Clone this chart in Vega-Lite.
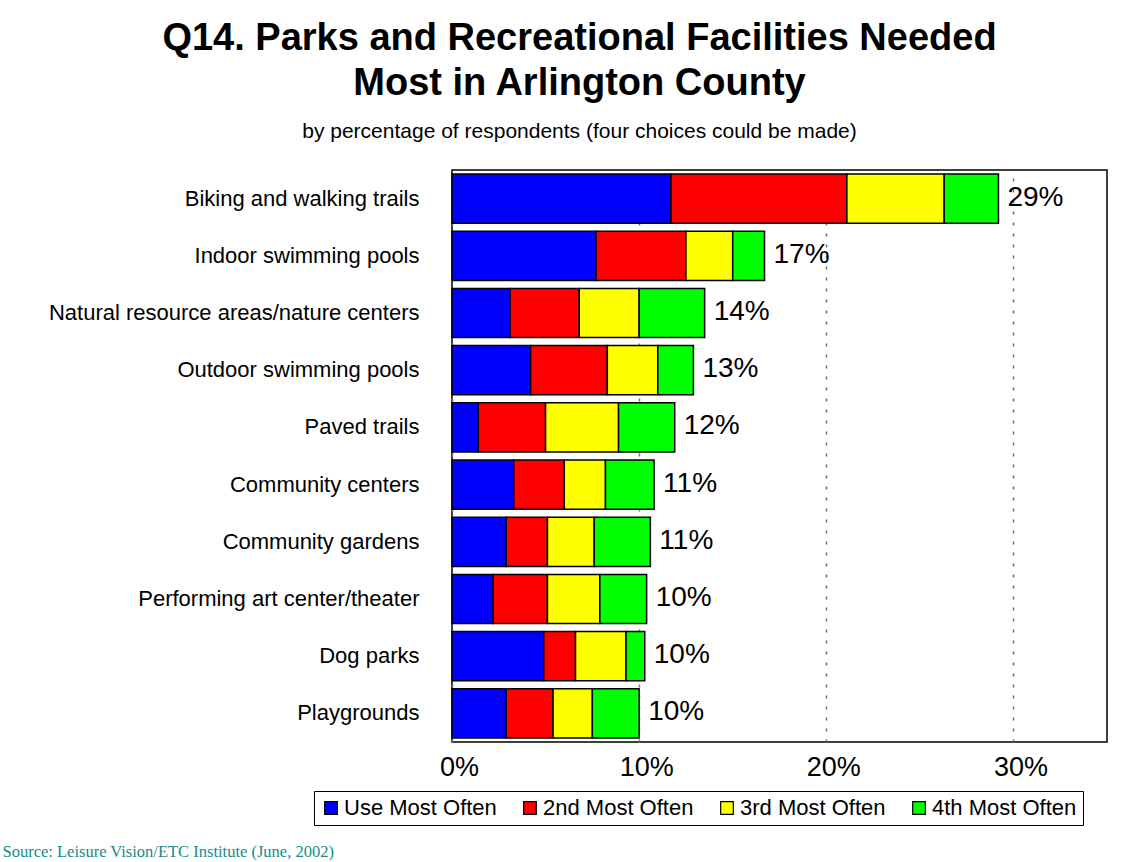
{
  "$schema": "https://vega.github.io/schema/vega-lite/v6.json",
  "width": 655,
  "height": 572,
  "autosize": {"type": "none"},
  "padding": {"left": 452, "top": 170, "right": 31, "bottom": 120},
  "background": "white",
  "config": {
    "font": "Liberation Sans",
    "view": {"stroke": "black", "strokeWidth": 1.5}
  },
  "title": {
    "text": ["Q14. Parks and Recreational Facilities Needed", "Most in Arlington County"],
    "subtitle": "by percentage of respondents (four choices could be made)",
    "anchor": "middle",
    "dx": -200,
    "font": "Liberation Sans",
    "fontSize": 38,
    "fontWeight": "bold",
    "lineHeight": 45,
    "color": "black",
    "subtitleFont": "Liberation Sans",
    "subtitleFontSize": 21,
    "subtitleColor": "black",
    "subtitlePadding": 18,
    "offset": 28
  },
  "datasets": {
    "segments": [
      {"facility": "Biking and walking trails", "choice": "Use Most Often", "rank": 1, "value": 11.7},
      {"facility": "Biking and walking trails", "choice": "2nd Most Often", "rank": 2, "value": 9.4},
      {"facility": "Biking and walking trails", "choice": "3rd Most Often", "rank": 3, "value": 5.2},
      {"facility": "Biking and walking trails", "choice": "4th Most Often", "rank": 4, "value": 2.9},
      {"facility": "Indoor swimming pools", "choice": "Use Most Often", "rank": 1, "value": 7.7},
      {"facility": "Indoor swimming pools", "choice": "2nd Most Often", "rank": 2, "value": 4.8},
      {"facility": "Indoor swimming pools", "choice": "3rd Most Often", "rank": 3, "value": 2.5},
      {"facility": "Indoor swimming pools", "choice": "4th Most Often", "rank": 4, "value": 1.7},
      {"facility": "Natural resource areas/nature centers", "choice": "Use Most Often", "rank": 1, "value": 3.1},
      {"facility": "Natural resource areas/nature centers", "choice": "2nd Most Often", "rank": 2, "value": 3.7},
      {"facility": "Natural resource areas/nature centers", "choice": "3rd Most Often", "rank": 3, "value": 3.2},
      {"facility": "Natural resource areas/nature centers", "choice": "4th Most Often", "rank": 4, "value": 3.5},
      {"facility": "Outdoor swimming pools", "choice": "Use Most Often", "rank": 1, "value": 4.2},
      {"facility": "Outdoor swimming pools", "choice": "2nd Most Often", "rank": 2, "value": 4.1},
      {"facility": "Outdoor swimming pools", "choice": "3rd Most Often", "rank": 3, "value": 2.7},
      {"facility": "Outdoor swimming pools", "choice": "4th Most Often", "rank": 4, "value": 1.9},
      {"facility": "Paved trails", "choice": "Use Most Often", "rank": 1, "value": 1.4},
      {"facility": "Paved trails", "choice": "2nd Most Often", "rank": 2, "value": 3.6},
      {"facility": "Paved trails", "choice": "3rd Most Often", "rank": 3, "value": 3.9},
      {"facility": "Paved trails", "choice": "4th Most Often", "rank": 4, "value": 3.0},
      {"facility": "Community centers", "choice": "Use Most Often", "rank": 1, "value": 3.3},
      {"facility": "Community centers", "choice": "2nd Most Often", "rank": 2, "value": 2.7},
      {"facility": "Community centers", "choice": "3rd Most Often", "rank": 3, "value": 2.2},
      {"facility": "Community centers", "choice": "4th Most Often", "rank": 4, "value": 2.6},
      {"facility": "Community gardens", "choice": "Use Most Often", "rank": 1, "value": 2.9},
      {"facility": "Community gardens", "choice": "2nd Most Often", "rank": 2, "value": 2.2},
      {"facility": "Community gardens", "choice": "3rd Most Often", "rank": 3, "value": 2.5},
      {"facility": "Community gardens", "choice": "4th Most Often", "rank": 4, "value": 3.0},
      {"facility": "Performing art center/theater", "choice": "Use Most Often", "rank": 1, "value": 2.2},
      {"facility": "Performing art center/theater", "choice": "2nd Most Often", "rank": 2, "value": 2.9},
      {"facility": "Performing art center/theater", "choice": "3rd Most Often", "rank": 3, "value": 2.8},
      {"facility": "Performing art center/theater", "choice": "4th Most Often", "rank": 4, "value": 2.5},
      {"facility": "Dog parks", "choice": "Use Most Often", "rank": 1, "value": 4.9},
      {"facility": "Dog parks", "choice": "2nd Most Often", "rank": 2, "value": 1.7},
      {"facility": "Dog parks", "choice": "3rd Most Often", "rank": 3, "value": 2.7},
      {"facility": "Dog parks", "choice": "4th Most Often", "rank": 4, "value": 1.0},
      {"facility": "Playgrounds", "choice": "Use Most Often", "rank": 1, "value": 2.9},
      {"facility": "Playgrounds", "choice": "2nd Most Often", "rank": 2, "value": 2.5},
      {"facility": "Playgrounds", "choice": "3rd Most Often", "rank": 3, "value": 2.1},
      {"facility": "Playgrounds", "choice": "4th Most Often", "rank": 4, "value": 2.5}
    ],
    "totals": [
      {"facility": "Biking and walking trails", "total": 29.2, "label": "29%"},
      {"facility": "Indoor swimming pools", "total": 16.7, "label": "17%"},
      {"facility": "Natural resource areas/nature centers", "total": 13.5, "label": "14%"},
      {"facility": "Outdoor swimming pools", "total": 12.9, "label": "13%"},
      {"facility": "Paved trails", "total": 11.9, "label": "12%"},
      {"facility": "Community centers", "total": 10.8, "label": "11%"},
      {"facility": "Community gardens", "total": 10.6, "label": "11%"},
      {"facility": "Performing art center/theater", "total": 10.4, "label": "10%"},
      {"facility": "Dog parks", "total": 10.3, "label": "10%"},
      {"facility": "Playgrounds", "total": 10.0, "label": "10%"}
    ]
  },
  "layer": [
    {
      "data": {"name": "segments"},
      "mark": {"type": "bar", "stroke": "black", "strokeWidth": 1.5},
      "encoding": {
        "y": {
          "field": "facility",
          "type": "nominal",
          "sort": ["Biking and walking trails", "Indoor swimming pools", "Natural resource areas/nature centers", "Outdoor swimming pools", "Paved trails", "Community centers", "Community gardens", "Performing art center/theater", "Dog parks", "Playgrounds"],
          "scale": {"paddingInner": 0.14, "paddingOuter": 0.07},
          "axis": {
            "title": null,
            "ticks": false,
            "domain": false,
            "labelFontSize": 22,
            "labelColor": "black",
            "labelPadding": 33,
            "labelLimit": 500
          }
        },
        "x": {
          "field": "value",
          "type": "quantitative",
          "stack": "zero",
          "scale": {"domain": [0, 35], "nice": false},
          "axis": {
            "values": [0, 10, 20, 30],
            "labelExpr": "datum.value + '%'",
            "labelFontSize": 27,
            "labelColor": "black",
            "labelPadding": 12,
            "labelFlush": false,
            "labelOffset": 7,
            "ticks": false,
            "domain": false,
            "grid": true,
            "gridDash": [3, 8],
            "gridColor": "#707070",
            "gridWidth": 1.5,
            "title": "Source:  Leisure Vision/ETC Institute (June, 2002)",
            "titleX": -450,
            "titleY": 114,
            "titleAlign": "left",
            "titleAnchor": "start",
            "titleBaseline": "alphabetic",
            "titleFont": "Liberation Serif",
            "titleFontSize": 16.5,
            "titleFontWeight": "normal",
            "titleColor": "#178a8a"
          }
        },
        "color": {
          "field": "choice",
          "type": "nominal",
          "scale": {
            "domain": ["Use Most Often", "2nd Most Often", "3rd Most Often", "4th Most Often"],
            "range": ["#0000ff", "#ff0000", "#ffff00", "#00ff00"]
          },
          "legend": {
            "title": null,
            "orient": "none",
            "legendX": -138,
            "legendY": 621,
            "direction": "horizontal",
            "columns": 4,
            "labelFontSize": 22,
            "labelColor": "black",
            "labelOffset": 2,
            "symbolType": "square",
            "symbolSize": 160,
            "symbolStrokeColor": "black",
            "symbolStrokeWidth": 1.2,
            "strokeColor": "black",
            "fillColor": "white",
            "padding": 6,
            "columnPadding": 22
          }
        },
        "order": {"field": "rank", "type": "quantitative"}
      }
    },
    {
      "data": {"name": "totals"},
      "mark": {"type": "text", "align": "left", "baseline": "middle", "dx": 9, "dy": -1, "fontSize": 28, "color": "black", "font": "Liberation Sans"},
      "encoding": {
        "y": {"field": "facility", "type": "nominal", "sort": ["Biking and walking trails", "Indoor swimming pools", "Natural resource areas/nature centers", "Outdoor swimming pools", "Paved trails", "Community centers", "Community gardens", "Performing art center/theater", "Dog parks", "Playgrounds"]},
        "x": {"field": "total", "type": "quantitative"},
        "text": {"field": "label"}
      }
    }
  ]
}
